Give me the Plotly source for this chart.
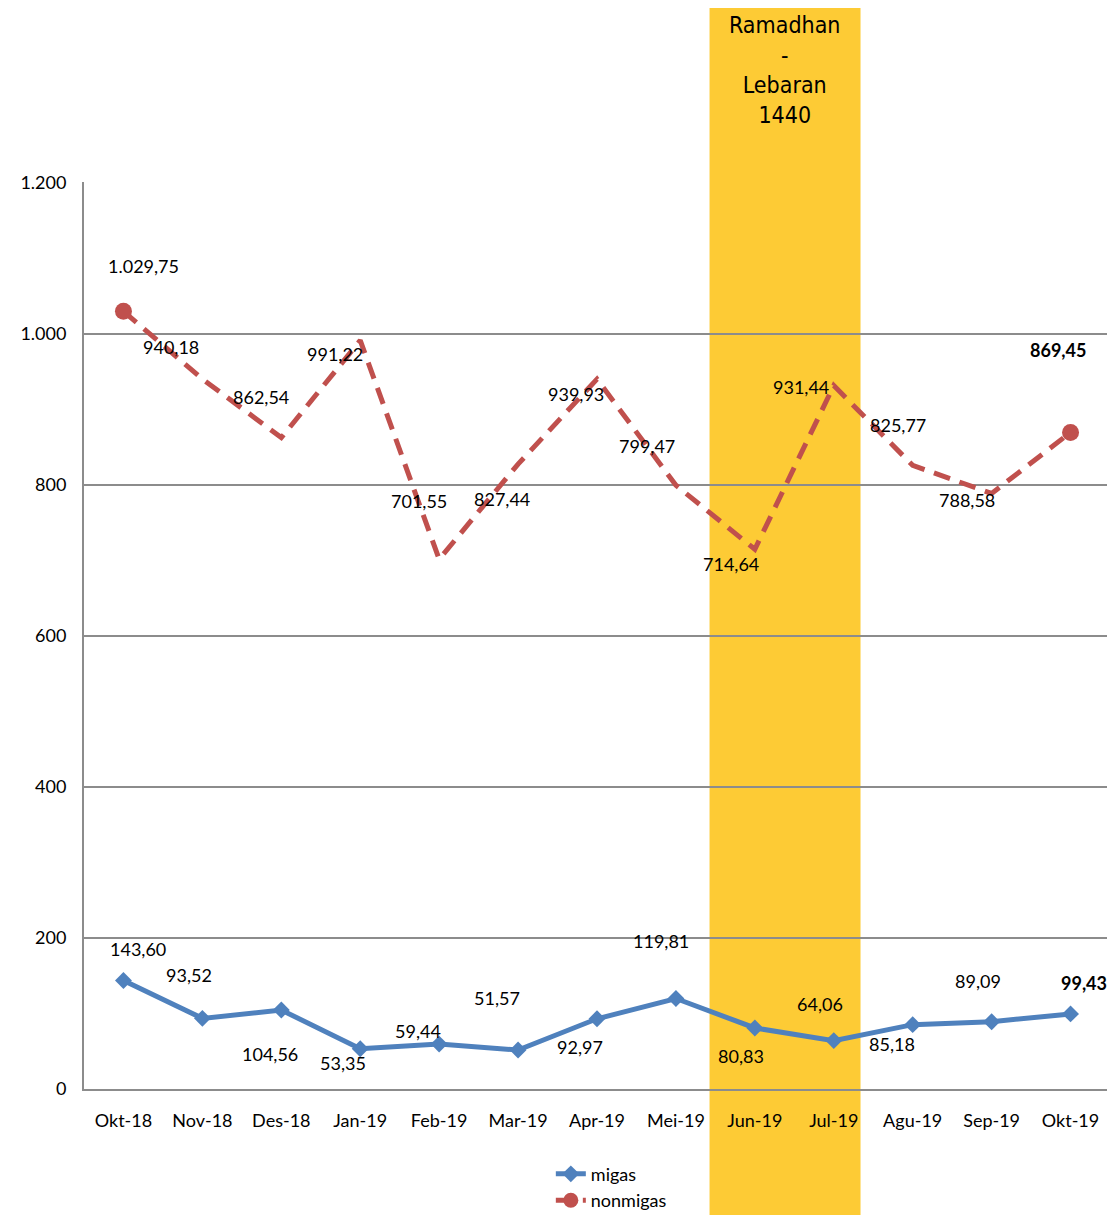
import plotly.graph_objects as go

months = ["Okt-18", "Nov-18", "Des-18", "Jan-19", "Feb-19", "Mar-19", "Apr-19",
          "Mei-19", "Jun-19", "Jul-19", "Agu-19", "Sep-19", "Okt-19"]
migas = [143.60, 93.52, 104.56, 53.35, 59.44, 51.57, 92.97, 119.81, 80.83, 64.06, 85.18, 89.09, 99.43]
nonmigas = [1029.75, 940.18, 862.54, 991.22, 701.55, 827.44, 939.93, 799.47, 714.64, 931.44, 825.77, 788.58, 869.45]
y_ticks = [0, 200, 400, 600, 800, 1000, 1200]
y_ticktext = ["0", "200", "400", "600", "800", "1.000", "1.200"]
band_text = ["Ramadhan", "-", "Lebaran", "1440"]

# label offsets (pixels) for data labels
mig_dx = [15, -13, -11, -17, -21, -21, -17, -15, -14, -14, -21, -14, 13]
mig_dy = [32, 43, -44, -14, 13, 52, -28, 58, -28, 37, -19, 41, 31]
non_dx = [20, -31, -20, -25, -20, -16, -21, -29, -24, -33, -15, -25, -13]
non_dy = [45, 32, 41, -14, 58, -35, -15, 39, -15, -1, 40, -7, 82]


def fmt(v):
    s = f"{v:,.2f}"
    return s.replace(",", "X").replace(".", ",").replace("X", ".")


FONT = "Lato, Calibri, Carlito, sans-serif"
BLUE = "#4F81BD"
RED = "#C0504D"
GRID = "#8C8C8C"
DASH = "17px,10px"

n = len(months)
ends = [0, n - 1]

fig = go.Figure()
fig.add_trace(go.Scatter(
    x=months, y=migas, name="migas", mode="lines+markers",
    line=dict(color=BLUE, width=5),
    marker=dict(symbol="diamond", size=13, color=BLUE),
))
fig.add_trace(go.Scatter(
    x=months, y=nonmigas, name="nonmigas", mode="lines", showlegend=False,
    line=dict(color=RED, width=5, dash=DASH),
))
fig.add_trace(go.Scatter(
    x=[months[i] for i in ends], y=[nonmigas[i] for i in ends],
    mode="markers", showlegend=False, hoverinfo="skip",
    marker=dict(symbol="circle", size=17, color=RED, opacity=1),
))
fig.add_trace(go.Scatter(
    x=[None], y=[None], name="nonmigas", mode="lines+markers",
    line=dict(color=RED, width=5, dash=DASH),
    marker=dict(symbol="circle", size=15, color=RED),
))

annotations = []
for i, (m, v) in enumerate(zip(months, migas)):
    bold = i == n - 1
    annotations.append(dict(
        x=m, y=v, xref="x", yref="y", text=(f"<b>{fmt(v)}</b>" if bold else fmt(v)),
        showarrow=False, xshift=mig_dx[i], yshift=mig_dy[i],
        font=dict(family=FONT, size=18, color="#000000")))
for i, (m, v) in enumerate(zip(months, nonmigas)):
    bold = i == n - 1
    annotations.append(dict(
        x=m, y=v, xref="x", yref="y", text=(f"<b>{fmt(v)}</b>" if bold else fmt(v)),
        showarrow=False, xshift=non_dx[i], yshift=non_dy[i],
        font=dict(family=FONT, size=18, color="#000000")))

annotations.append(dict(
    x=0.683, y=1.1895, xref="paper", yref="paper", text="<br>".join(band_text),
    showarrow=False, yanchor="top", xanchor="center", align="center",
    font=dict(family="DejaVu Sans Condensed, Liberation Sans Narrow, Arial Narrow, sans-serif",
              size=23, color="#000000")))

i_jun = months.index("Jun-19")
i_jul = months.index("Jul-19")
fig.add_shape(type="rect", xref="x", yref="paper",
              x0=i_jun - 0.574, x1=i_jul + 0.339, y0=-0.14, y1=1.20,
              fillcolor="#FDCB35", line=dict(width=0), layer="below")

fig.update_layout(
    width=1107, height=1207,
    margin=dict(l=76, r=5, t=174, b=126, autoexpand=False),
    paper_bgcolor="white", plot_bgcolor="rgba(0,0,0,0)",
    font=dict(family=FONT, size=18, color="#000000"),
    annotations=annotations,
    showlegend=True,
    legend=dict(x=0.455, y=-0.0735, xanchor="left", yanchor="top",
                font=dict(family=FONT, size=18, color="#000000"),
                bgcolor="rgba(0,0,0,0)", tracegroupgap=0, itemwidth=30),
)
fig.update_xaxes(
    type="category", range=[-0.5, n - 0.5],
    showline=True, linecolor=GRID, linewidth=2, showgrid=False,
    ticks="", ticklabelstandoff=14,
    tickfont=dict(family=FONT, size=18, color="#000000"),
)
fig.update_yaxes(
    range=[0, 1201], tickvals=y_ticks, ticktext=y_ticktext,
    showline=True, linecolor=GRID, linewidth=2,
    showgrid=True, gridcolor=GRID, gridwidth=1.5, zeroline=False,
    ticks="", ticklabelstandoff=12,
    tickfont=dict(family=FONT, size=18, color="#000000"),
)

fig.write_html("out.html")
